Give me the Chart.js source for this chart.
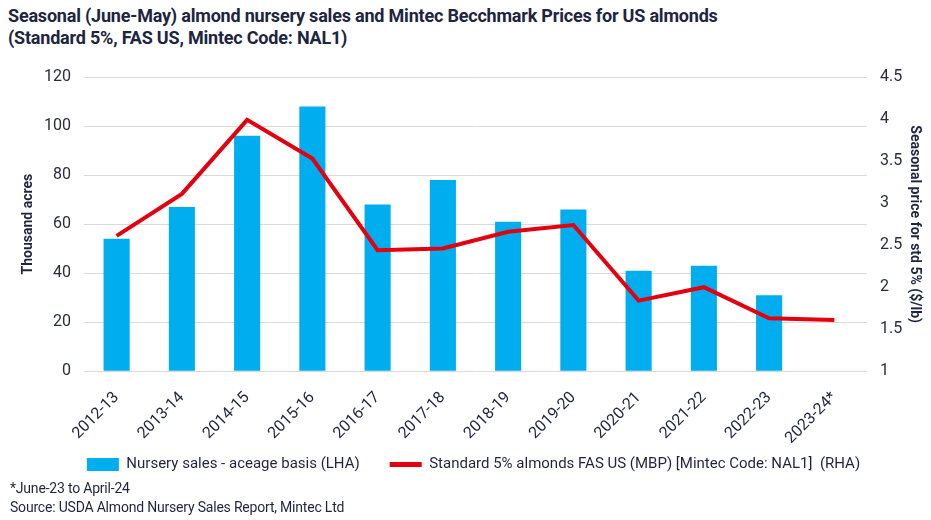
<!DOCTYPE html>
<html>
<head>
<meta charset="utf-8">
<script src="https://cdn.jsdelivr.net/npm/chart.js@4/dist/chart.umd.min.js"></script>
<style>
  body { margin: 0; background: #fff; font-family: Roboto, sans-serif; }
  #wrap { position: relative; width: 931px; height: 520px; overflow: hidden; }
  #title { position: absolute; left: 8px; top: 5px; font-weight: bold; font-size: 18px; line-height: 22px; color: #1d2540; letter-spacing: -0.2px; }
  #box { position: absolute; left: 0; top: 52px; width: 931px; height: 460px; }
  .note { position: absolute; left: 10px; font-size: 14px; color: #1d2540; letter-spacing: -0.2px; }
</style>
</head>
<body>
<div id="wrap">
  <div id="title">Seasonal (June-May) almond nursery sales and Mintec Becchmark Prices for US almonds<br>(Standard 5%, FAS US, Mintec Code: NAL1)</div>
  <div id="box"><canvas id="chart"></canvas></div>
  <div class="note" style="top:480px">*June-23 to April-24</div>
  <div class="note" style="top:499px">Source: USDA Almond Nursery Sales Report, Mintec Ltd</div>
</div>
<script>
const seasons = ["2012-13", "2013-14", "2014-15", "2015-16", "2016-17", "2017-18",
                 "2018-19", "2019-20", "2020-21", "2021-22", "2022-23", "2023-24*"];
const nurserySales = [54, 67, 96, 108, 68, 78, 61, 66, 41, 43, 31, null];
const almondPrice = [2.61, 3.11, 3.99, 3.53, 2.44, 2.46, 2.66, 2.74, 1.84, 2.0, 1.63, 1.61];

const fontFamily = 'Roboto, sans-serif';
const darkText = '#1d2540';

// pull the legend up closer to the rotated labels
const legendLift = {
    id: 'legendLift',
    afterLayout(chart) {
        const lg = chart.legend;
        if (!lg) return;
        lg.top -= 30;
        lg.bottom -= 30;
    }
};

const ctx = document.getElementById("chart").getContext("2d");
new Chart(ctx, {
    data: {
        labels: seasons,
        datasets: [
            {
                type: 'line',
                label: 'Standard 5% almonds FAS US (MBP) [Mintec Code: NAL1]  (RHA)',
                data: almondPrice,
                yAxisID: 'yPrice',
                borderColor: '#e3000f',
                backgroundColor: '#e3000f',
                borderWidth: 4,
                pointRadius: 0,
                tension: 0,
                order: 0
            },
            {
                type: 'bar',
                label: 'Nursery sales - aceage basis (LHA)',
                data: nurserySales,
                yAxisID: 'yAcres',
                backgroundColor: '#00aeef',
                barPercentage: 0.8,
                categoryPercentage: 0.5,
                order: 1
            }
        ]
    },
    plugins: [legendLift],
    options: {
        responsive: true,
        maintainAspectRatio: false,
        animation: false,
        layout: { padding: { left: 20, right: 4, top: 25, bottom: 0 } },
        plugins: {
            legend: {
                position: 'bottom',
                reverse: true,
                labels: {
                    usePointStyle: true,
                    pointStyleWidth: 32,
                    boxHeight: 13,
                    padding: 30,
                    color: darkText,
                    font: { family: fontFamily, size: 15 },
                    generateLabels: function(chart) {
                        const items = Chart.defaults.plugins.legend.labels.generateLabels(chart);
                        items.forEach(function(it) {
                            const ds = chart.data.datasets[it.datasetIndex];
                            it.pointStyle = ds.type === 'line' ? 'line' : 'rect';
                            it.lineWidth = ds.type === 'line' ? 5 : 0;
                        });
                        return items;
                    }
                }
            },
            tooltip: { enabled: false }
        },
        scales: {
            x: {
                grid: { display: false },
                border: { display: false },
                ticks: {
                    minRotation: 45,
                    maxRotation: 45,
                    padding: 9,
                    color: darkText,
                    font: { family: fontFamily, size: 16 }
                }
            },
            yAcres: {
                position: 'left',
                min: 0,
                max: 120,
                afterFit: function(scale) { scale.width = 64; },
                ticks: { stepSize: 20, color: '#2a2d3a', padding: 13, font: { family: fontFamily, size: 16 } },
                grid: { color: '#d9d9d9', drawTicks: false },
                border: { display: false },
                title: {
                    display: true,
                    text: 'Thousand acres',
                    color: darkText,
                    padding: { top: 0, bottom: 6 },
                    font: { family: fontFamily, size: 14, weight: 'bold' }
                }
            },
            yPrice: {
                position: 'right',
                min: 1,
                max: 4.5,
                afterFit: function(scale) { scale.width = 60; },
                ticks: {
                    stepSize: 0.5,
                    color: '#2a2d3a',
                    padding: 13,
                    font: { family: fontFamily, size: 16 },
                    callback: function(v) { return String(v); }
                },
                grid: { display: false, drawTicks: false },
                border: { display: false },
                title: {
                    display: true,
                    text: 'Seasonal price for std 5% ($/lb)',
                    color: darkText,
                    padding: { top: 4, bottom: 0 },
                    font: { family: fontFamily, size: 14, weight: 'bold' }
                }
            }
        }
    }
});
</script>
</body>
</html>
